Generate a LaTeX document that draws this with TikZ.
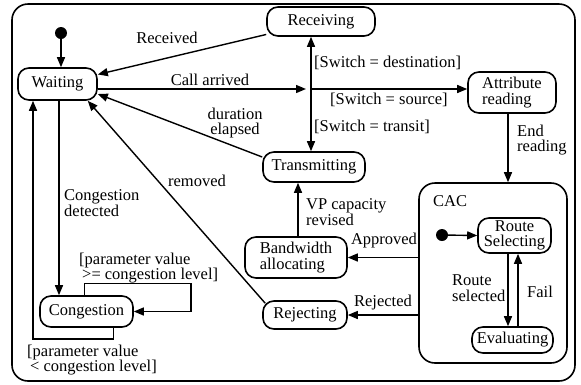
\documentclass[tikz,border=0pt]{standalone}
\usepackage{fontspec}
\setmainfont{Liberation Serif}
\usetikzlibrary{arrows.meta}
\begin{document}
\begin{tikzpicture}[x=1pt,y=-1pt,
  every node/.style={font=\fontsize{16.5}{15.5}\selectfont},
  state/.style={draw, line width=1.6pt, rounded corners=11pt, inner sep=0pt, align=center},
  super/.style={draw, line width=1.6pt, rounded corners=16pt, inner sep=0pt},
  initdot/.style={circle, fill=black, inner sep=0pt, minimum size=12pt},
  lbl/.style={inner sep=0pt, align=left},
  conn/.style={line width=1.4pt},
  arr/.style={conn, -{Triangle[length=10pt,width=8pt]}}]
\useasboundingbox (0,0) rectangle (581,384);

% enclosing state and the CAC superstate
\node[super, minimum width=563pt, minimum height=377pt] (frame) at (293.5,192.5) {};
\node[super, minimum width=148pt, minimum height=180pt] (cac) at (493,273) {};
\node[lbl, anchor=west] (caclbl) at (433,201) {CAC};

% states
\node[state, minimum width=79pt, minimum height=32pt] (wait) at (57.5,84) {Waiting};
\node[state, minimum width=108pt, minimum height=29pt] (recv) at (321,21.5) {Receiving};
\node[state, minimum width=88pt, minimum height=41pt, align=left] (attr) at (512,92.5) {Attribute\\reading};
\node[state, minimum width=102pt, minimum height=30pt] (trans) at (314,167) {Transmitting};
\node[state, minimum width=102pt, minimum height=41pt, align=left] (bw) at (296,257.5) {Bandwidth\\allocating};
\node[state, minimum width=84pt, minimum height=28pt] (rej) at (305,315) {Rejecting};
\node[state, minimum width=93pt, minimum height=31pt] (cong) at (86.5,311.5) {Congestion};
\node[state, minimum width=73pt, minimum height=35pt] (rs) at (514.5,235.5) {Route\\Selecting};
\node[state, minimum width=81pt, minimum height=26pt] (ev) at (512.5,340) {Evaluating};

% initial pseudostates and the call junction
\node[initdot] (init) at (61,33) {};
\node[initdot] (cinit) at (442,235) {};
\coordinate (jn) at (311,89);

% transitions
\draw[arr] (init) -- (init |- wait.north);
\draw[arr] (recv) -- (wait);
\draw[arr, shorten >=5pt] ([yshift=-5pt]wait.east) -- (jn);
\draw[arr] (jn) -- (jn |- recv.south);
\draw[arr] (jn) -- (jn |- trans.north);
\draw[arr] (jn) -- (jn -| attr.west);
\draw[arr] ([yshift=10pt]trans.west) -- ([yshift=-10pt]wait.east);
\draw[arr] ([xshift=3pt,yshift=-3pt]rej.north west) -- ([xshift=-10pt]wait.south east);
\draw[arr] ([xshift=-4pt]attr.south) -- ([xshift=-4pt]attr.south |- cac.north);
\draw[arr] ([xshift=2pt]bw.north) -- ([xshift=2pt]bw.north |- trans.south);
\draw[arr] (cac.west |- bw.east) -- (bw.east);
\draw[arr] (cac.west |- rej.east) -- (rej.east);
\draw[arr] (cinit) -- (rs.west);
\draw[arr] ([xshift=-6.5pt]rs.south) -- ([xshift=-6.5pt]rs.south |- ev.north);
\draw[arr] ([xshift=3.5pt]rs.south |- ev.north) -- ([xshift=3.5pt]rs.south);
\draw[arr] ([xshift=1.5pt]wait.south) -- ([xshift=1.5pt]wait.south |- cong.north);
\draw[arr] ([xshift=-2pt]cong.north) -- ++(0,-12) -| ([xshift=57pt]cong.east) -- (cong.east);
\draw[arr] ([xshift=27pt]cong.south) -- ++(0,11) -| ([xshift=-24.5pt]wait.south);

% transition labels
\node[lbl] (l1) at (167,38) {Received};
\node[lbl] (l2) at (210,80) {Call arrived};
\node[lbl, align=center] (l3) at (235,123) {duration\\elapsed};
\node[lbl] (l4) at (197,181) {removed};
\node[lbl, anchor=west] (l5) at (314,63) {[Switch = destination]};
\node[lbl, anchor=west] (l6) at (330,100) {[Switch = source]};
\node[lbl, anchor=west] (l7) at (314,127) {[Switch = transit]};
\node[lbl, anchor=west] (l8) at (517,140) {End\\reading};
\node[lbl, anchor=west] (l9) at (64,203) {Congestion\\detected};
\node[lbl, anchor=west] (l10) at (79,268) {[parameter value\\\hspace*{3pt}>= congestion level]};
\node[lbl, anchor=west] (l11) at (27,360) {[parameter value\\\hspace*{3pt}< congestion level]};
\node[lbl, anchor=west] (l12) at (306,212) {VP capacity\\revised};
\node[lbl] (l13) at (384,241) {Approved};
\node[lbl] (l14) at (383,303) {Rejected};
\node[lbl, anchor=west] (l15) at (452,288) {Route\\selected};
\node[lbl, anchor=west] (l16) at (527,292) {Fail};
\end{tikzpicture}
\end{document}
